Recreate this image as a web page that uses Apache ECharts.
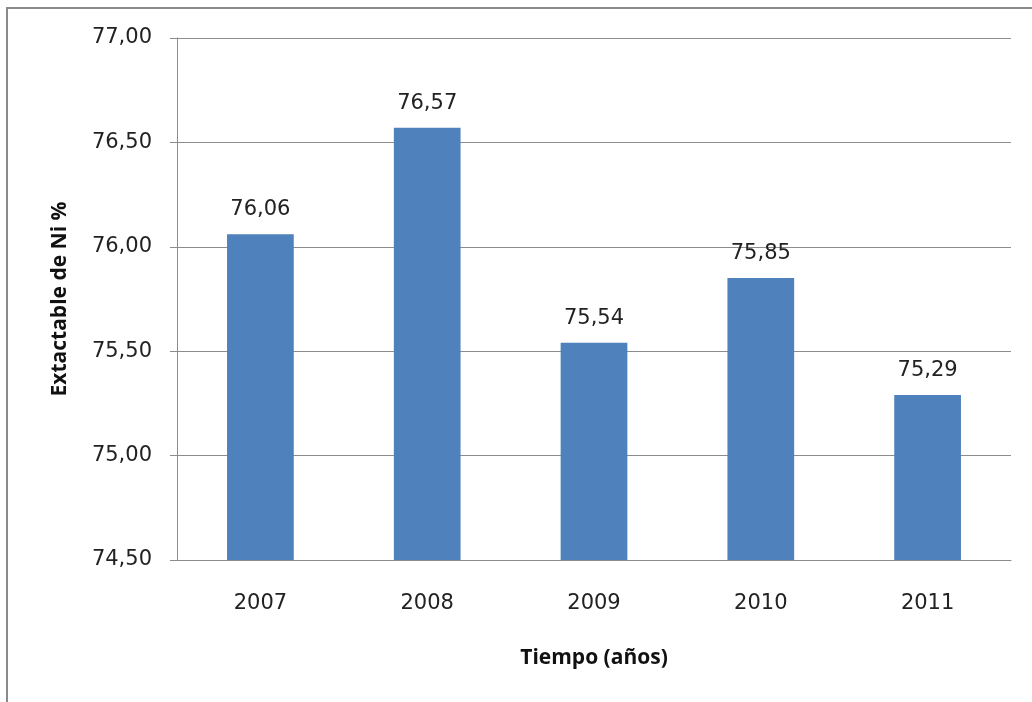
<!DOCTYPE html>
<html>
<head>
<meta charset="utf-8">
<script src="https://cdn.jsdelivr.net/npm/echarts@6/dist/echarts.min.js"></script>
<style>
  html, body { margin: 0; padding: 0; background: #ffffff; }
  #chart { width: 1032px; height: 702px; }
</style>
</head>
<body>
<div id="chart"></div>
<script>
// Nickel extractable percentage per year
const years = ['2007', '2008', '2009', '2010', '2011'];
const extractable = [76.06, 76.57, 75.54, 75.85, 75.29];
const yTicks = [74.5, 75.0, 75.5, 76.0, 76.5, 77.0];

const fmt = v => v.toFixed(2).replace('.', ',');

const chart = echarts.init(document.getElementById('chart'));
chart.setOption({
  animation: false,
  backgroundColor: '#ffffff',
  graphic: [{
    type: 'rect',
    shape: { x: 7, y: 8, width: 1100, height: 800 },
    style: { fill: 'none', stroke: '#8a8a8a', lineWidth: 2 },
    silent: true
  }],
  grid: { left: 177, right: 21, top: 38, bottom: 142 },
  xAxis: {
    type: 'category',
    data: years,
    axisLine: { lineStyle: { color: '#8c8c8c', width: 1 } },
    axisTick: { show: false },
    axisLabel: { color: '#222', fontSize: 21, fontFamily: 'DejaVu Sans', margin: 33 },
    name: 'Tiempo (años)',
    nameLocation: 'middle',
    nameGap: 88,
    nameTextStyle: { color: '#111', fontSize: 21, fontWeight: 'bold', fontFamily: 'Open Sans' }
  },
  yAxis: {
    type: 'value',
    min: yTicks[0],
    max: yTicks[yTicks.length - 1],
    interval: 0.5,
    axisLine: { show: true, lineStyle: { color: '#8c8c8c', width: 1 } },
    axisTick: { show: true, length: 7, lineStyle: { color: '#8c8c8c' } },
    splitLine: { lineStyle: { color: '#8c8c8c', width: 1 } },
    axisLabel: { color: '#222', fontSize: 21, fontFamily: 'DejaVu Sans', margin: 25, formatter: fmt },
    name: 'Extactable de Ni %',
    nameLocation: 'middle',
    nameGap: 106,
    nameRotate: 90,
    nameTextStyle: { color: '#111', fontSize: 21, fontWeight: 'bold', fontFamily: 'Open Sans' }
  },
  series: [{
    type: 'bar',
    data: extractable,
    barWidth: '40%',
    itemStyle: { color: '#4f81bd' },
    label: {
      show: true,
      position: 'top',
      distance: 14,
      color: '#222',
      fontSize: 21,
      fontFamily: 'DejaVu Sans',
      formatter: p => fmt(p.value)
    }
  }]
});
</script>
</body>
</html>
